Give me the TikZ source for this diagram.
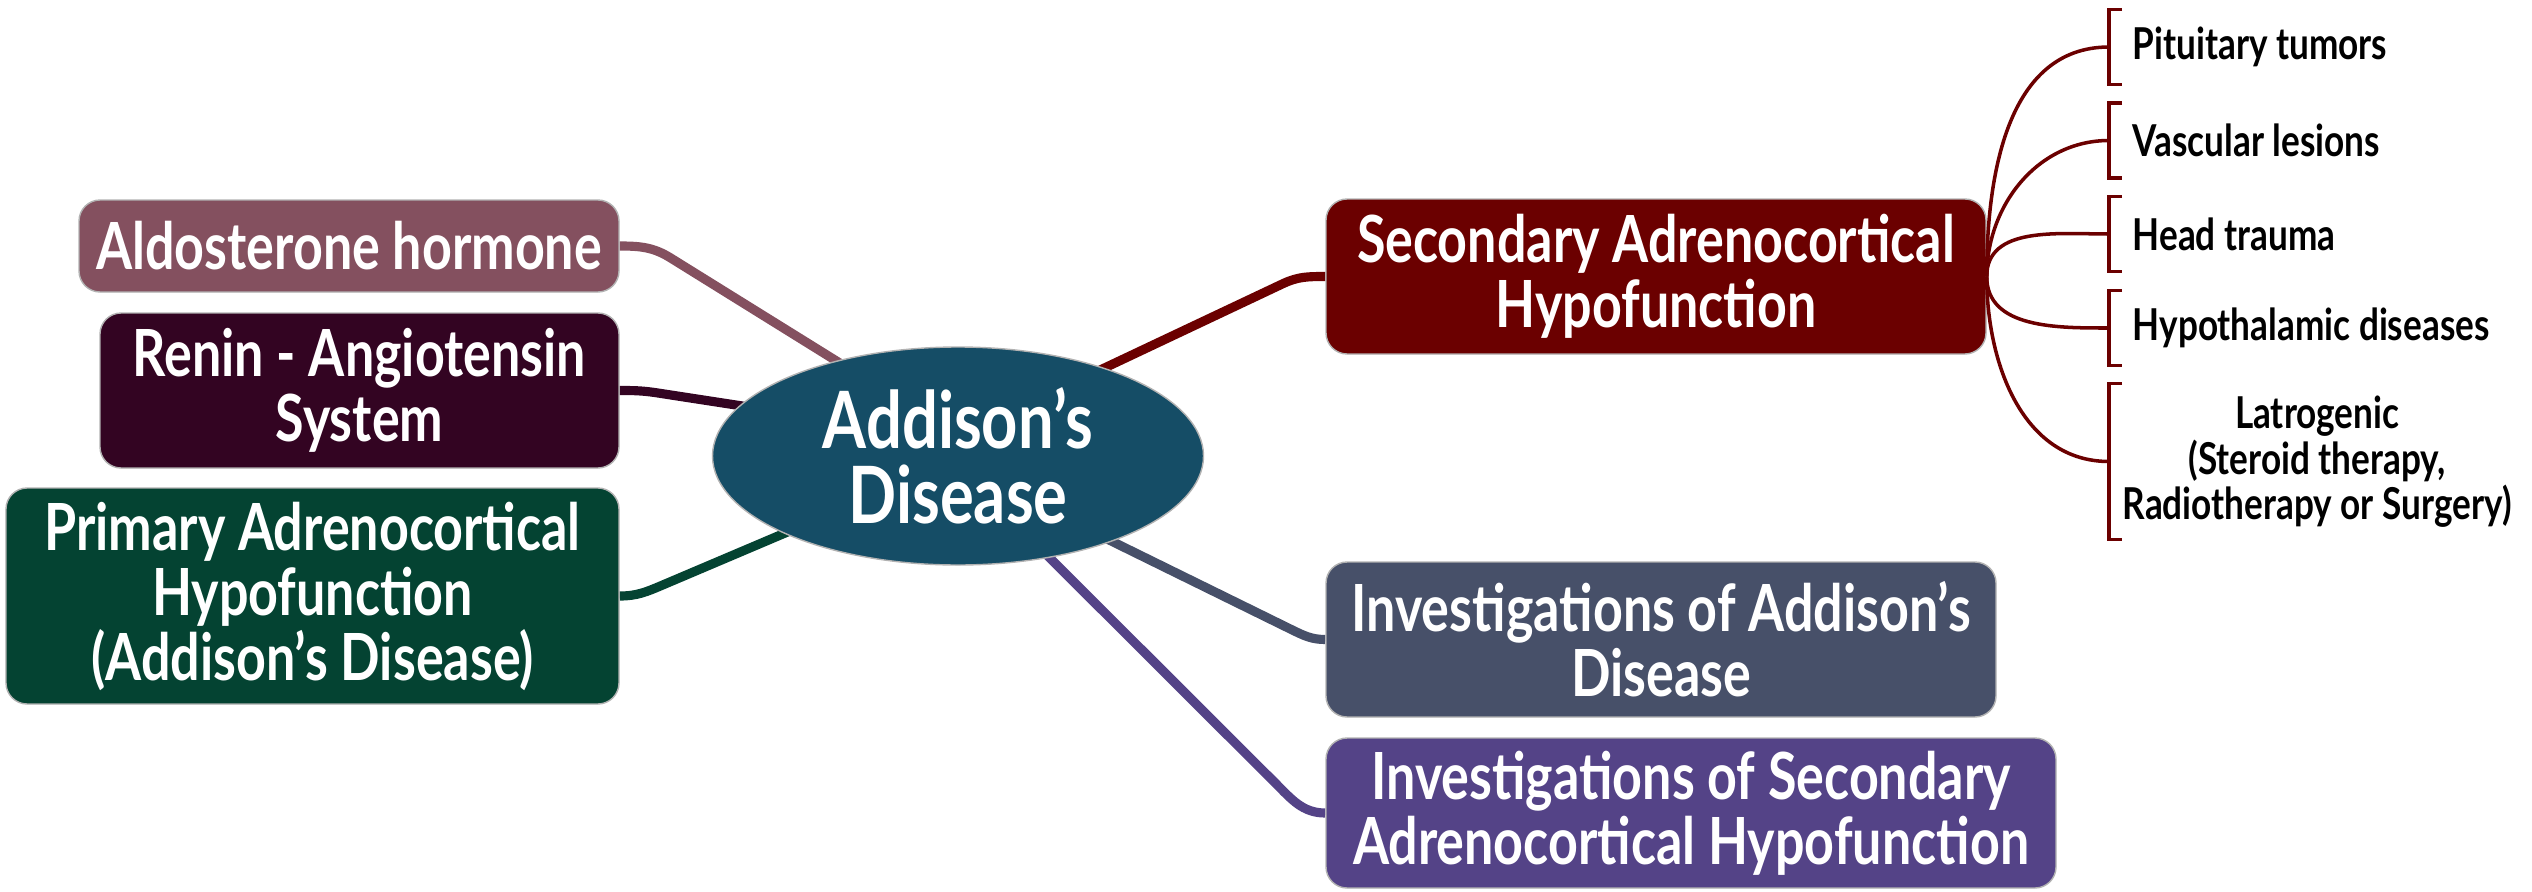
\documentclass[tikz,border=0pt]{standalone}
\usepackage{fontspec}
\usetikzlibrary{shapes.geometric,backgrounds}
\newfontfamily\mapfont[FakeStretch=0.8]{Lato}
\definecolor{corefill}{HTML}{154D66}
\definecolor{aldofill}{HTML}{84505F}
\definecolor{reninfill}{HTML}{330422}
\definecolor{primfill}{HTML}{044332}
\definecolor{secfill}{HTML}{6B0000}
\definecolor{invafill}{HTML}{475069}
\definecolor{invsfill}{HTML}{544387}

\begin{document}
\begin{tikzpicture}[
  topic/.style={rounded corners=6pt, draw=black!30, line width=0.4pt, inner sep=0pt, align=center, text=white, font=\mapfont\bfseries\fontsize{18.5}{18.5}\selectfont},
  core/.style={ellipse, draw=black!30, line width=0.4pt, fill=corefill, inner sep=0pt, align=center, text=white, font=\mapfont\bfseries\fontsize{22.5}{21.5}\selectfont},
  leaf/.style={anchor=west, minimum height=0.74cm, inner xsep=0.23cm, inner ysep=0pt, align=left, font=\mapfont\bfseries\fontsize{12.5}{11.5}\selectfont},
  branch/.style={line width=2.6pt, draw=#1, line join=round, shorten <=-4pt},
  twig/.style={draw=secfill, line width=1pt}
]
  \useasboundingbox (0,0) rectangle (25.32,8.91);

  % centre and main topics
  \node[core, minimum width=4.91cm, minimum height=2.18cm] (core) at (9.58,4.35) {Addison’s\\Disease};
  \node[topic, fill=aldofill, minimum width=5.40cm, minimum height=0.92cm] (aldo) at (3.49,6.45) {Aldosterone hormone};
  \node[topic, fill=reninfill, minimum width=5.19cm, minimum height=1.55cm] (renin) at (3.595,5.005) {Renin - Angiotensin\\System};
  \node[topic, fill=primfill, minimum width=6.13cm, minimum height=2.16cm] (prim) at (3.125,2.95) {Primary Adrenocortical\\Hypofunction\\(Addison’s Disease)};
  \node[topic, fill=secfill, minimum width=6.60cm, minimum height=1.55cm] (sec) at (16.56,6.145) {Secondary Adrenocortical\\Hypofunction};
  \node[topic, fill=invafill, minimum width=6.70cm, minimum height=1.55cm] (inva) at (16.61,2.515) {Investigations of Addison’s\\Disease};
  \node[topic, fill=invsfill, minimum width=7.30cm, minimum height=1.50cm] (invs) at (16.91,0.78) {Investigations of Secondary\\Adrenocortical Hypofunction};

  % causes of secondary hypofunction
  \node[leaf] (pit) at (21.09,8.44) {Pituitary tumors};
  \node[leaf] (vas) at (21.09,7.505) {Vascular lesions};
  \node[leaf] (head) at (21.09,6.57) {Head trauma};
  \node[leaf] (hypo) at (21.09,5.63) {Hypothalamic diseases};
  \node[leaf, minimum height=1.55cm, minimum width=4.15cm, inner xsep=0pt, align=center] (iatro) at (21.09,4.295) {Latrogenic\\(Steroid therapy,\\Radiotherapy or Surgery)};

  \begin{scope}[on background layer]
    \draw[branch=aldofill] (core.142) -- ([shift={(0.51,-0.12)}]aldo.east) to[out=148, in=0] (aldo.east);
    \draw[branch=reninfill] (core.167) -- ([shift={(0.35,-0.02)}]renin.east) to[out=172, in=0] (renin.east);
    \draw[branch=primfill] (core.204) -- ([shift={(0.43,0.11)}]prim.east) to[out=203, in=0] (prim.east);
    \draw[branch=secfill] (core.31) -- ([shift={(-0.42,-0.07)}]sec.west) to[out=25, in=180] (sec.west);
    \draw[branch=invafill] (core.331) -- ([shift={(-0.34,0.10)}]inva.west) to[out=-26, in=180] (inva.west);
    \draw[branch=invsfill] (core.312) -- ([shift={(-0.50,0.30)}]invs.west) to[out=-45, in=180] (invs.west);
  \end{scope}

  \draw[twig] (sec.east) to[out=90, in=180] (pit.west);
  \draw[twig] (sec.east) to[out=90, in=180] (vas.west);
  \draw[twig] (sec.east) to[out=90, in=180] (head.west);
  \draw[twig] (sec.east) to[out=-90, in=180] (hypo.west);
  \draw[twig] (sec.east) to[out=-90, in=180] (iatro.west);
  \foreach \n in {pit,vas,head,hypo,iatro}
    \draw[twig] ([xshift=0.13cm]\n.north west) -| (\n.south west) -- ++(0.13,0);
\end{tikzpicture}
\end{document}
